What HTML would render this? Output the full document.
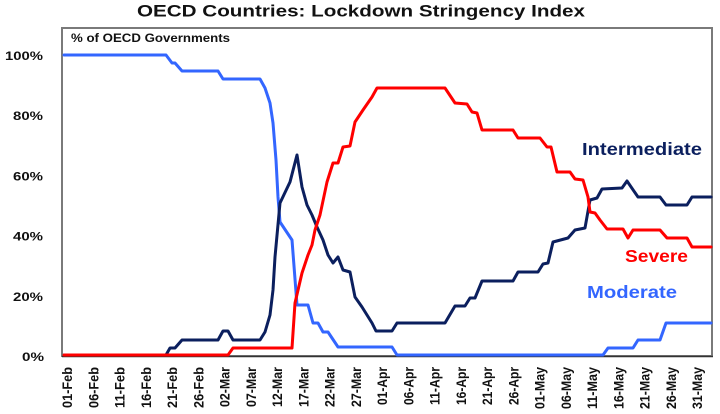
<!DOCTYPE html>
<html><head><meta charset="utf-8"><style>
html,body{margin:0;padding:0;background:#fff;}
svg{display:block;}
text{font-family:"Liberation Sans",Arial,sans-serif;font-weight:bold;}
</style></head><body>
<svg width="720" height="414" viewBox="0 0 720 414" xmlns="http://www.w3.org/2000/svg">
<rect width="720" height="414" fill="#fff"/>
<text x="137" y="16.5" font-size="17" textLength="448" lengthAdjust="spacingAndGlyphs" fill="#111">OECD Countries: Lockdown Stringency Index</text>
<rect x="62" y="28" width="650" height="328" fill="none" stroke="#7a7a7a" stroke-width="2"/>
<line x1="62" y1="356.5" x2="713" y2="356.5" stroke="#333" stroke-width="1.5"/>
<text x="71" y="42" font-size="11.5" textLength="159" lengthAdjust="spacingAndGlyphs" fill="#111">% of OECD Governments</text>
<g font-size="12" fill="#111" text-anchor="end">
<text x="43" y="60" textLength="38" lengthAdjust="spacingAndGlyphs">100%</text>
<text x="43" y="120" textLength="30" lengthAdjust="spacingAndGlyphs">80%</text>
<text x="43" y="180.5" textLength="30" lengthAdjust="spacingAndGlyphs">60%</text>
<text x="43" y="240.5" textLength="30" lengthAdjust="spacingAndGlyphs">40%</text>
<text x="43" y="301" textLength="30" lengthAdjust="spacingAndGlyphs">20%</text>
<text x="44" y="361" textLength="22" lengthAdjust="spacingAndGlyphs">0%</text>
</g>
<g font-size="13.5" fill="#111" text-anchor="end">
<text transform="translate(72,367) rotate(-90)" textLength="41" lengthAdjust="spacingAndGlyphs">01-Feb</text>
<text transform="translate(98.25,367) rotate(-90)" textLength="41" lengthAdjust="spacingAndGlyphs">06-Feb</text>
<text transform="translate(124.5,367) rotate(-90)" textLength="41" lengthAdjust="spacingAndGlyphs">11-Feb</text>
<text transform="translate(150.75,367) rotate(-90)" textLength="41" lengthAdjust="spacingAndGlyphs">16-Feb</text>
<text transform="translate(177,367) rotate(-90)" textLength="41" lengthAdjust="spacingAndGlyphs">21-Feb</text>
<text transform="translate(203.25,367) rotate(-90)" textLength="41" lengthAdjust="spacingAndGlyphs">26-Feb</text>
<text transform="translate(229.5,367) rotate(-90)" textLength="40" lengthAdjust="spacingAndGlyphs">02-Mar</text>
<text transform="translate(255.75,367) rotate(-90)" textLength="40" lengthAdjust="spacingAndGlyphs">07-Mar</text>
<text transform="translate(282,367) rotate(-90)" textLength="40" lengthAdjust="spacingAndGlyphs">12-Mar</text>
<text transform="translate(308.25,367) rotate(-90)" textLength="40" lengthAdjust="spacingAndGlyphs">17-Mar</text>
<text transform="translate(334.5,367) rotate(-90)" textLength="40" lengthAdjust="spacingAndGlyphs">22-Mar</text>
<text transform="translate(360.75,367) rotate(-90)" textLength="40" lengthAdjust="spacingAndGlyphs">27-Mar</text>
<text transform="translate(387,367) rotate(-90)" textLength="38" lengthAdjust="spacingAndGlyphs">01-Apr</text>
<text transform="translate(413.25,367) rotate(-90)" textLength="38" lengthAdjust="spacingAndGlyphs">06-Apr</text>
<text transform="translate(439.5,367) rotate(-90)" textLength="38" lengthAdjust="spacingAndGlyphs">11-Apr</text>
<text transform="translate(465.75,367) rotate(-90)" textLength="38" lengthAdjust="spacingAndGlyphs">16-Apr</text>
<text transform="translate(492,367) rotate(-90)" textLength="38" lengthAdjust="spacingAndGlyphs">21-Apr</text>
<text transform="translate(518.25,367) rotate(-90)" textLength="38" lengthAdjust="spacingAndGlyphs">26-Apr</text>
<text transform="translate(544.5,367) rotate(-90)" textLength="42" lengthAdjust="spacingAndGlyphs">01-May</text>
<text transform="translate(570.75,367) rotate(-90)" textLength="42" lengthAdjust="spacingAndGlyphs">06-May</text>
<text transform="translate(597,367) rotate(-90)" textLength="42" lengthAdjust="spacingAndGlyphs">11-May</text>
<text transform="translate(623.25,367) rotate(-90)" textLength="42" lengthAdjust="spacingAndGlyphs">16-May</text>
<text transform="translate(649.5,367) rotate(-90)" textLength="42" lengthAdjust="spacingAndGlyphs">21-May</text>
<text transform="translate(675.75,367) rotate(-90)" textLength="42" lengthAdjust="spacingAndGlyphs">26-May</text>
<text transform="translate(702,367) rotate(-90)" textLength="42" lengthAdjust="spacingAndGlyphs">31-May</text>
</g>
<g fill="none" stroke-width="3" stroke-linejoin="round" stroke-linecap="round">
<polyline stroke="#3366FF" points="64,55 166,55 172,63 175,63 182,71 218,71 223,79 260,79 265,88 270,103 273,123 276,160 278,197 280,222 292,240 297,305 308,305 313,323 318,323 323,332 328,332 338,347 392,347 397,355 603,355 608,348 633,348 638,340 660,340 666,323 711,323"/>
<polyline stroke="#0B1F5E" points="64,355 166,355 170,348 175,348 182,340 218,340 223,331 228,331 233,340 260,340 265,332 270,315 273,290 275,257 280,203 290,182 297,155 302,187 307,205 312,215 317,227 323,240 328,255 333,263 338,257 343,270 350,272 355,297 362,307 372,323 376,331 392,331 397,323 445,323 455,306 465,306 470,298 475,298 482,281 513,281 518,272 538,272 543,264 548,263 553,242 568,238 575,230 585,228 590,200 597,198 602,189 622,188 627,181 638,197 660,197 666,205 687,205 692,197 711,197"/>
<polyline stroke="#FF0000" points="64,355 228,355 233,348 292,348 295,303 302,273 308,255 312,245 315,230 320,215 327,182 333,163 338,163 343,147 350,146 355,122 363,110 372,97 377,88 445,88 455,103 467,104 472,112 477,113 482,130 513,130 518,138 540,138 547,147 551,147 557,172 570,172 575,179 583,180 588,197 590,212 595,213 600,220 607,229 623,229 628,238 633,230 660,230 667,238 687,238 692,247 711,247"/>
</g>
<text x="582" y="155" font-size="17.5" fill="#0B1F5E" textLength="120" lengthAdjust="spacingAndGlyphs">Intermediate</text>
<text x="625" y="262" font-size="17.5" fill="#FF0000" textLength="63" lengthAdjust="spacingAndGlyphs">Severe</text>
<text x="587" y="298" font-size="17.5" fill="#3366FF" textLength="90" lengthAdjust="spacingAndGlyphs">Moderate</text>
</svg>
</body></html>
